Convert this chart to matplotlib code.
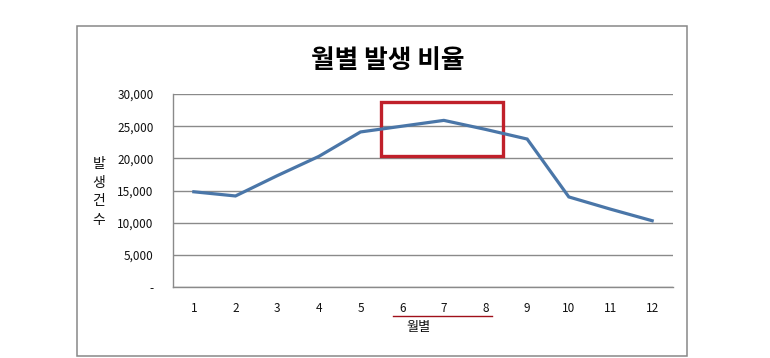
import matplotlib
matplotlib.use('Agg')
import matplotlib.pyplot as plt
from matplotlib.patches import Rectangle
from matplotlib.ticker import FuncFormatter

plt.rcParams['font.family'] = ['Noto Sans CJK KR', 'DejaVu Sans']

# data
months = [1, 2, 3, 4, 5, 6, 7, 8, 9, 10, 11, 12]
counts = [14800, 14150, 17300, 20300, 24100, 25000, 25900, 24500, 23000, 14000, 12100, 10300]
yticks = [0, 5000, 10000, 15000, 20000, 25000, 30000]

title = '월별 발생 비율'
xlabel = '월별'
ylabel = '발생건수'

W, H = 770, 358
fig = plt.figure(figsize=(W / 100, H / 100), dpi=100)
fig.patch.set_facecolor('white')

# outer chart frame
frame = Rectangle((77 / W, 1 - 356 / H), (687 - 77) / W, (356 - 26) / H,
                  transform=fig.transFigure, fill=False, edgecolor='#888888', lw=1.1)
fig.add_artist(frame)

ax = fig.add_axes([173 / W, 1 - 287 / H, (673 - 173) / W, (287 - 94) / H])
ax.plot(months, counts, color='#4a76a8', lw=2.3, solid_joinstyle='miter')

ax.set_xlim(0.5, 12.5)
ax.set_ylim(0, 30000)
ax.set_xticks(months)
ax.set_yticks(yticks)
ax.yaxis.set_major_formatter(FuncFormatter(lambda v, p: '-' if v == 0 else f'{int(v):,}'))
ax.grid(axis='y', color='#8a8a8a', lw=1)
ax.set_axisbelow(True)
for s in ['top', 'right']:
    ax.spines[s].set_visible(False)
for s in ['left', 'bottom']:
    ax.spines[s].set_color('#8a8a8a')
    ax.spines[s].set_linewidth(1)
ax.tick_params(axis='y', length=0, pad=14, labelsize=8.5, labelcolor='#111111')
ax.tick_params(axis='x', length=0, pad=11, labelsize=8.5, labelcolor='#111111')

# highlight box around summer months
box = Rectangle((5.49, 20360), 8.42 - 5.49, 28750 - 20360, fill=False,
                edgecolor='#c0202a', lw=2.4, clip_on=False)
ax.add_patch(box)

fig.text(388 / W, 1 - 61 / H, title, ha='center', va='center',
         fontsize=18.5, fontweight='bold', color='black')
fig.text(419 / W, 1 - 328 / H, xlabel, ha='center', va='center',
         fontsize=9.5, color='#111111')
fig.text(99 / W, 1 - 192 / H, '\n'.join(ylabel), ha='center', va='center',
         fontsize=10, color='#111111', linespacing=1.4)

# red underline under x-axis labels
fig.add_artist(plt.Line2D([393 / W, 492 / W], [1 - 316 / H, 1 - 316 / H],
                          transform=fig.transFigure, color='#a0101a', lw=1))

fig.savefig('out.png', dpi=100)
